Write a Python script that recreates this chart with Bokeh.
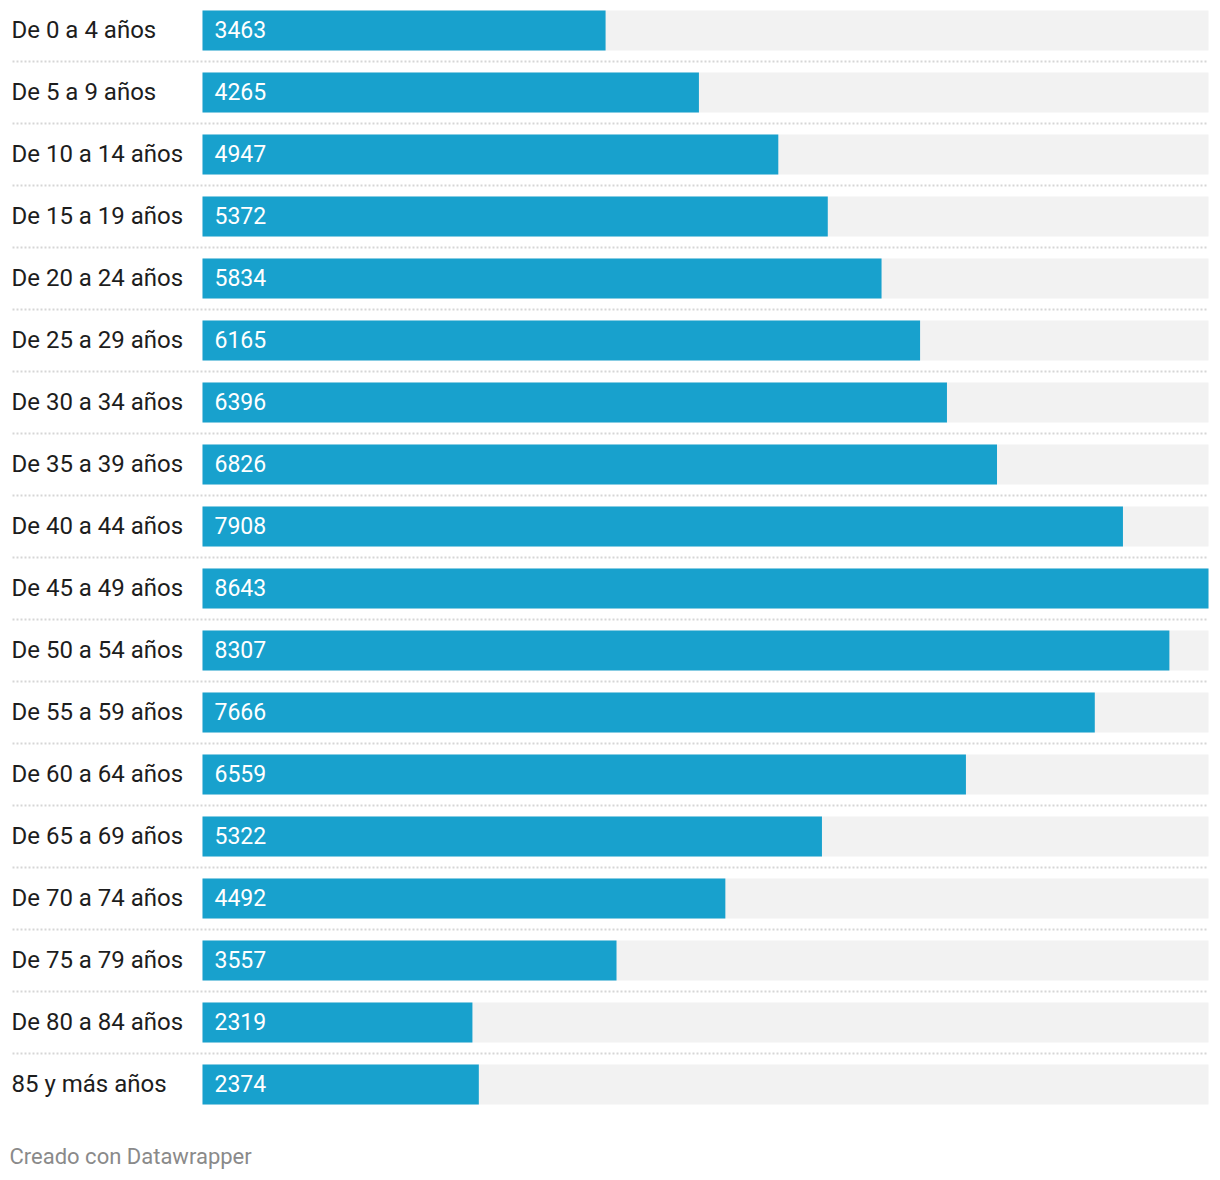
from bokeh.plotting import figure
from bokeh.models import Range1d, ColumnDataSource
from bokeh.core.properties import value
from bokeh.embed import file_html
from bokeh.resources import INLINE

categories = ["De 0 a 4 años", "De 5 a 9 años", "De 10 a 14 años", "De 15 a 19 años",
              "De 20 a 24 años", "De 25 a 29 años", "De 30 a 34 años", "De 35 a 39 años",
              "De 40 a 44 años", "De 45 a 49 años", "De 50 a 54 años", "De 55 a 59 años",
              "De 60 a 64 años", "De 65 a 69 años", "De 70 a 74 años", "De 75 a 79 años",
              "De 80 a 84 años", "85 y más años"]
values = [3463, 4265, 4947, 5372, 5834, 6165, 6396, 6826, 7908, 8643,
          8307, 7666, 6559, 5322, 4492, 3557, 2319, 2374]
footer = "Creado con Datawrapper"

W, H = 1212, 1172
ROW = 62.0
BAR_PX = 40.0
X0_PX = 202.0   # where zero sits
XMAX_PX = 1208.0
vmax = max(values)
scale = vmax / (XMAX_PX - X0_PX)
x_start = -X0_PX * scale
x_end = x_start + W * scale
y_start = -30.0 / ROW
y_end = y_start + H / ROW

p = figure(width=W, height=H, output_backend="svg", toolbar_location=None,
           x_range=Range1d(x_start, x_end), y_range=Range1d(y_end, y_start),
           min_border=0, min_border_left=0, min_border_right=0,
           min_border_top=0, min_border_bottom=0)
p.axis.visible = False
p.grid.visible = False
p.outline_line_color = None
p.background_fill_color = "white"
p.border_fill_color = "white"

idx = list(range(len(categories)))
src = ColumnDataSource(dict(y=idx, v=values, cat=categories,
                            lab=[str(v) for v in values],
                            vmax=[vmax] * len(values)))
h = BAR_PX / ROW
p.hbar(y="y", left=0, right="vmax", height=h, source=src,
       fill_color="#f2f2f2", line_color=None)
p.hbar(y="y", left=0, right="v", height=h, source=src,
       fill_color="#18a1cd", line_color=None)

sep_y = [i + 0.5 for i in idx[:-1]]
p.segment(x0=[x_start + 12 * scale] * len(sep_y), x1=[vmax] * len(sep_y),
          y0=sep_y, y1=sep_y, line_color="#d6d6d6", line_width=2,
          line_dash="2 2")

p.text(x=x_start, y="y", text="cat", source=src, x_offset=11, y_offset=-1,
       text_font=value("Roboto"), text_font_size="24px", text_color="#1d1d1d",
       text_baseline="middle", text_align="left")
p.text(x=0, y="y", text="lab", source=src, x_offset=12, y_offset=-1,
       text_font=value("Roboto"), text_font_size="23px", text_color="white",
       text_baseline="middle", text_align="left")

p.text(x=[x_start], y=[1157.0 / ROW + y_start], text=[footer], x_offset=9,
       y_offset=-1,
       text_font=value("Roboto"), text_font_size="22px", text_color="#8a8a8a",
       text_baseline="middle", text_align="left")

open("out.html", "w").write(file_html(p, INLINE))
